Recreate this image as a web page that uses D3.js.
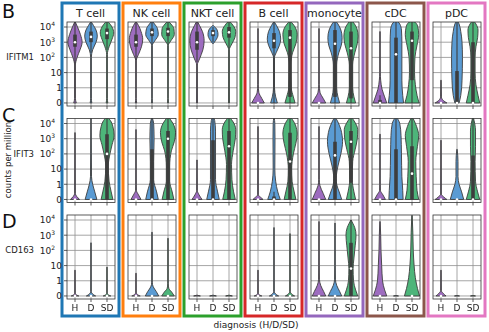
<!DOCTYPE html>
<html><head><meta charset="utf-8">
<script src="https://cdn.jsdelivr.net/npm/d3@7"></script>
<style>body{margin:0;background:#fff}svg{display:block;font-family:"DejaVu Sans",sans-serif}.xl{filter:grayscale(1)}</style>
</head><body><svg id="c" width="489" height="332"></svg>
<script>
const cellTypes = ["T cell","NK cell","NKT cell","B cell","monocyte","cDC","pDC"];
const diagnoses = ["H","D","SD"];
const genes = ["IFITM1","IFIT3","CD163"];
const panelLetters = ["B","C","D"];
const tickValues = [0,1,10,100,1000,10000];
const tickLabels = [["0"],["1"],["10"],["10","2"],["10","3"],["10","4"]];
const frameColors = ["#1f77b4","#ff7f0e","#2ca02c","#d62728","#9467bd","#8c564b","#e377c2"];
const diagColors = ["#9d6cbf","#5a9bd3","#4db57a"];

// violin profiles: [log-position, relative half width]; log-position: 0->0, 1->1, 10->2, 100->3 ...
const ifitm1Profiles = [
 [[0,0.15],[0.3,0.05],[2.5,0.05],[3.0,0.25],[3.5,0.6],[4.0,0.85],[4.5,0.65],[5.0,0.3],[5.35,0]],
 [[0,0.1],[0.3,0.04],[3.0,0.04],[3.5,0.2],[4.0,0.6],[4.4,0.75],[4.8,0.6],[5.1,0.3],[5.35,0]],
 [[0,0.1],[0.3,0.04],[3.2,0.04],[3.7,0.25],[4.2,0.6],[4.6,0.8],[5.0,0.6],[5.3,0.2],[5.4,0]],
 [[0,0.08],[0.3,0.03],[2.8,0.04],[3.2,0.3],[3.7,0.65],[4.2,0.8],[4.7,0.6],[5.1,0.3],[5.35,0]],
 [[0,0.05],[0.3,0.03],[3.8,0.04],[4.1,0.35],[4.5,0.75],[4.9,0.65],[5.2,0.3],[5.4,0]],
 [[0,0.05],[0.3,0.03],[3.8,0.04],[4.1,0.35],[4.5,0.75],[4.9,0.7],[5.2,0.35],[5.4,0]],
 [[0,0.05],[2.5,0.04],[2.9,0.3],[3.5,0.7],[4.1,0.85],[4.7,0.65],[5.1,0.3],[5.4,0]],
 [[3.9,0],[4.1,0.3],[4.5,0.6],[4.8,0.5],[5.1,0]],
 [[0,0.05],[3.5,0.04],[3.9,0.35],[4.3,0.7],[4.7,0.8],[5.1,0.5],[5.4,0]],
 [[0,0.75],[0.3,0.45],[0.7,0.1],[1.2,0.03],[4.9,0]],
 [[0,0.4],[0.4,0.2],[1,0.06],[3,0.06],[3.3,0.25],[3.8,0.65],[4.2,0.8],[4.7,0.65],[5.1,0.3],[5.35,0]],
 [[0,0.6],[0.4,0.4],[1,0.15],[2.5,0.1],[3.3,0.3],[3.9,0.7],[4.5,0.85],[5.0,0.6],[5.4,0]],
 [[0,0.8],[0.3,0.5],[0.7,0.12],[1.2,0.03],[4.9,0]],
 [[0,0.55],[0.4,0.35],[1,0.2],[2.5,0.2],[3.3,0.45],[3.8,0.75],[4.3,0.85],[4.8,0.7],[5.2,0.35],[5.45,0]],
 [[0,0.55],[0.4,0.35],[1,0.2],[2.5,0.2],[3.3,0.45],[3.9,0.75],[4.4,0.85],[4.9,0.7],[5.25,0.35],[5.45,0]],
 [[0,0.8],[0.4,0.55],[0.9,0.25],[1.5,0.08],[2.0,0.03],[4.7,0]],
 [[0,0.9],[0.5,0.8],[1.5,0.7],[3,0.7],[4,0.7],[4.8,0.65],[5.2,0.45],[5.45,0]],
 [[0,0.85],[0.5,0.6],[1.2,0.4],[2,0.3],[3,0.35],[3.8,0.6],[4.5,0.8],[5.0,0.7],[5.3,0.4],[5.45,0]],
 [[0,0.7],[0.15,0.3],[0.4,0.05],[1.5,0]],
 [[0,0.25],[0.5,0.45],[1.5,0.6],[3,0.65],[4,0.6],[4.7,0.45],[5.2,0.25],[5.45,0]],
 [[0,0.8],[0.5,0.6],[1.2,0.35],[2,0.25],[3,0.25],[3.7,0.35],[4.3,0.55],[4.8,0.6],[5.2,0.35],[5.45,0]]
];
const ifit3Profiles = [
 [[0,0.55],[0.2,0.2],[0.4,0.04],[4.4,0]],
 [[0,0.7],[0.5,0.45],[1.0,0.2],[1.5,0.06],[3,0.04],[5.4,0]],
 [[0,0.7],[0.5,0.5],[1.2,0.25],[2.2,0.15],[3,0.35],[3.6,0.6],[4.2,0.85],[4.8,0.7],[5.2,0.4],[5.45,0]],
 [[0,0.6],[0.3,0.3],[0.6,0.05],[1,0.03],[4.6,0]],
 [[0,0.75],[0.5,0.55],[1.3,0.2],[2.5,0.2],[4,0.25],[5,0.2],[5.4,0]],
 [[0,0.7],[0.5,0.5],[1.2,0.2],[2.2,0.2],[3.2,0.4],[3.8,0.75],[4.4,0.9],[5.0,0.6],[5.45,0]],
 [[0,0.6],[0.3,0.25],[0.6,0.04],[2.6,0]],
 [[0,0.75],[0.5,0.55],[1.3,0.3],[3,0.3],[4.5,0.3],[5.2,0.2],[5.45,0]],
 [[0,0.75],[0.5,0.55],[1.3,0.35],[2.3,0.3],[3.2,0.5],[4.0,0.75],[4.6,0.8],[5.1,0.5],[5.45,0]],
 [[0,0.6],[0.15,0.3],[0.3,0.04],[4.8,0]],
 [[0,0.75],[0.5,0.45],[1.2,0.2],[2,0.1],[4,0.12],[5.0,0.1],[5.4,0]],
 [[0,0.7],[0.5,0.5],[1.2,0.25],[2.0,0.2],[3,0.4],[3.7,0.7],[4.3,0.85],[4.9,0.65],[5.25,0.3],[5.45,0]],
 [[0,0.8],[0.4,0.5],[0.9,0.12],[1.3,0.03],[4.8,0]],
 [[0,0.8],[0.5,0.5],[1.0,0.2],[1.4,0.15],[2.2,0.35],[3.0,0.7],[3.8,0.9],[4.6,0.7],[5.1,0.35],[5.45,0]],
 [[0,0.55],[0.5,0.35],[1.3,0.15],[2.5,0.2],[3.3,0.5],[4.0,0.75],[4.6,0.8],[5.1,0.45],[5.45,0]],
 [[0,0.65],[0.3,0.35],[0.6,0.05],[1,0.03],[4.3,0]],
 [[0,0.85],[0.6,0.8],[1.5,0.7],[3,0.65],[4.2,0.6],[5.0,0.45],[5.45,0]],
 [[0,0.8],[0.6,0.6],[1.5,0.5],[2.5,0.45],[3.5,0.65],[4.2,0.8],[4.8,0.55],[5.2,0.25],[5.45,0]],
 [[0,0.7],[0.15,0.35],[0.35,0.04],[3.9,0]],
 [[0,0.8],[0.5,0.55],[1.0,0.25],[1.5,0.12],[2.5,0.12],[3.3,0]],
 [[0,0.8],[0.5,0.55],[1.2,0.3],[2.5,0.25],[3.5,0.3],[4.5,0.3],[5.45,0]]
];
const cd163Profiles = [
 [[0,0.45],[0.1,0.1],[0.2,0.03],[1.7,0]],
 [[0,0.55],[0.12,0.2],[0.3,0.03],[3.5,0]],
 [[0,0.45],[0.1,0.1],[0.2,0.03],[1.9,0]],
 [[0,0.5],[0.1,0.15],[0.25,0.03],[1.5,0]],
 [[0,0.8],[0.3,0.5],[0.6,0.15],[0.9,0.03],[4.2,0]],
 [[0,0.75],[0.25,0.45],[0.5,0.1],[0.8,0.03],[3.8,0]],
 [[0,0.4],[0.05,0]],
 [[0,0.4],[0.05,0]],
 [[0,0.4],[0.05,0]],
 [[0,0.45],[0.1,0.1],[0.2,0.03],[1.7,0]],
 [[0,0.55],[0.12,0.2],[0.3,0.03],[4.5,0]],
 [[0,0.55],[0.12,0.2],[0.3,0.03],[4.1,0]],
 [[0,0.8],[0.3,0.55],[0.7,0.2],[1.1,0.05],[2,0.03],[4.9,0]],
 [[0,0.8],[0.3,0.55],[0.7,0.2],[1.1,0.05],[2,0.03],[4.8,0]],
 [[0,0.8],[0.4,0.55],[1.0,0.3],[1.8,0.25],[2.5,0.35],[3.3,0.5],[4.0,0.6],[4.5,0.45],[4.8,0.2],[5.0,0]],
 [[0,0.8],[0.4,0.55],[1.0,0.3],[2,0.2],[3,0.12],[4,0.08],[4.9,0]],
 [[0,0.3],[0.03,0]],
 [[0,0.9],[0.5,0.65],[1.2,0.4],[2,0.25],[3,0.15],[4.2,0.1],[5.3,0]],
 [[0,0.6],[0.15,0.3],[0.35,0.04],[1.7,0]],
 [[0,0.3],[0.03,0]],
 [[0,0.3],[0.03,0]]
];
// box stats [whisker low, q1, median, q3, whisker high] in log-position units
const ifitm1Boxes = [
 [2.6,3.7,4.0,4.5,5.3],[3.3,4.0,4.35,4.7,5.3],[3.5,4.2,4.6,4.9,5.4],
 [2.8,3.7,4.0,4.5,5.3],[3.9,4.4,4.65,4.9,5.4],[3.9,4.4,4.7,4.95,5.4],
 [2.7,3.5,4.0,4.7,5.4],[4.0,4.4,4.6,4.8,5.0],[3.6,4.3,4.65,5.0,5.4],
 [0,0,0,0,0],[0,3.6,4.1,4.6,5.3],[0,0.4,4.3,4.8,5.4],
 [0,0,0,0,0],[0,0.4,3.9,4.8,5.4],[0,0.3,3.6,4.7,5.4],
 [0,0,0,0.2,0.5],[0,0,3.2,4.3,5.4],[0,1.5,4.1,4.7,5.4],
 [0,0,0,0,0],[0,0,0,2.1,5.4],[0,0,0,4.0,5.4]
];
const ifit3Boxes = [
 [0,0,0,0,0],[0,0,0,0,0],[0,0,3.0,4.3,5.4],
 [0,0,0,0,0],[0,0,0,3.3,5.4],[0,0,4.0,4.5,5.4],
 [0,0,0,0,0],[0,0,0,3.9,5.4],[0,0,3.5,4.5,5.4],
 [0,0,0,0,0],[0,0,0,0.2,0.5],[0,0,2.5,4.4,5.4],
 [0,0,0,0,0],[0,0,2.9,3.8,5.4],[0,1.1,3.8,4.5,5.4],
 [0,0,0,0,0],[0,0,0,3.3,5.4],[0,0,1.7,3.5,5.4],
 [0,0,0,0,0],[0,0,0,0,0],[0,0,0,2.9,5.4]
];
const cd163Boxes = [
 [0,0,0,0,0],[0,0,0,0,0],[0,0,0,0,0],
 [0,0,0,0,0],[0,0,0,0,0],[0,0,0,0,0],
 [0,0,0,0,0],[0,0,0,0,0],[0,0,0,0,0],
 [0,0,0,0,0],[0,0,0,0,0],[0,0,0,0,0],
 [0,0,0,0,0],[0,0,0,0,0],[0,0,1.8,3.5,5.0],
 [0,0,0,0,0],[0,0,0,0,0],[0,0,0,0,0],
 [0,0,0,0,0],[0,0,0,0,0],[0,0,0,0,0]
];
const profilesByGene = [ifitm1Profiles, ifit3Profiles, cd163Profiles];
const boxesByGene = [ifitm1Boxes, ifit3Boxes, cd163Boxes];

const svg = d3.select("#c");
const toPos = v => v <= 1 ? v : 1 + Math.log10(v);
const rowTops = [22, 118.5, 215];
const rowH = 84;
const axW = 48, firstLeft = 67, colStep = 61;

// frames + titles
cellTypes.forEach((c, i) => {
  const l = firstLeft + i * colStep;
  svg.append("rect").attr("x", l - 5).attr("y", 3).attr("width", axW + 9).attr("height", 313)
    .attr("fill", "none").attr("stroke", frameColors[i]).attr("stroke-width", 3);
  svg.append("text").attr("x", l + axW / 2 - 0.5).attr("y", 17).attr("text-anchor", "middle")
    .attr("font-size", 11).attr("fill", "#222").text(c);
});

genes.forEach((g, gi) => {
  const top = rowTops[gi];
  const y = d3.scaleLinear().domain([-0.2, 5.33]).range([top + rowH, top]);
  cellTypes.forEach((c, ci) => {
    const l = firstLeft + ci * colStep;
    const x = d3.scaleBand().domain(diagnoses).range([l, l + axW]);
    const hw = x.bandwidth() / 2;
    const clipId = `clip${gi}_${ci}`;
    svg.append("clipPath").attr("id", clipId).append("rect")
      .attr("x", l).attr("y", top).attr("width", axW).attr("height", rowH);
    const p = svg.append("g");
    // grid
    p.selectAll("line.h").data(tickValues).join("line").attr("class","h")
      .attr("x1", l).attr("x2", l + axW).attr("y1", d => y(toPos(d))).attr("y2", d => y(toPos(d)))
      .attr("stroke", "#8f8f8f").attr("stroke-width", 0.8);
    p.selectAll("line.v").data(diagnoses).join("line").attr("class","v")
      .attr("x1", d => x(d) + hw).attr("x2", d => x(d) + hw).attr("y1", top).attr("y2", top + rowH)
      .attr("stroke", "#8f8f8f").attr("stroke-width", 0.8);
    // bottom ticks
    p.selectAll("line.bt").data(diagnoses).join("line").attr("class","bt")
      .attr("x1", d => x(d) + hw).attr("x2", d => x(d) + hw).attr("y1", top + rowH).attr("y2", top + rowH + 3)
      .attr("stroke", "#333").attr("stroke-width", 0.8);
    const vg = p.append("g").attr("clip-path", `url(#${clipId})`);
    diagnoses.forEach((dg, di) => {
      const idx = ci * 3 + di;
      const prof = profilesByGene[gi][idx];
      const cx = x(dg) + hw;
      const area = d3.area().curve(d3.curveMonotoneY)
        .y(d => y(d[0]))
        .x0(d => cx - Math.max(d[1], 0.02) * hw * 1.05)
        .x1(d => cx + Math.max(d[1], 0.02) * hw * 1.05);
      vg.append("path").attr("d", area(prof)).attr("fill", diagColors[di])
        .attr("stroke", "#3d3d3d").attr("stroke-width", 0.9);
      const b = boxesByGene[gi][idx];
      if (prof.length > 2) {
        if (b[4] > b[0]) vg.append("line").attr("x1", cx).attr("x2", cx).attr("y1", y(b[0])).attr("y2", y(b[4]))
          .attr("stroke", "#3d3d3d").attr("stroke-width", 1.1);
        if (b[3] > b[1]) vg.append("line").attr("x1", cx).attr("x2", cx).attr("y1", y(b[1])).attr("y2", y(b[3]))
          .attr("stroke", "#3d3d3d").attr("stroke-width", 3.6);
        vg.append("circle").attr("cx", cx).attr("cy", y(b[2])).attr("r", 1.3).attr("fill", "#fff");
      }
    });
    // spines
    p.append("rect").attr("x", l).attr("y", top).attr("width", axW).attr("height", rowH)
      .attr("fill", "none").attr("stroke", "#333").attr("stroke-width", 0.8);
    if (gi === 2) {
      p.selectAll("text.xl").data(diagnoses).join("text").attr("class","xl")
        .attr("x", d => Math.round(x(d) + hw)).attr("y", top + rowH + 12).attr("text-anchor", "middle")
        .attr("font-size", 9).attr("fill", "#222").text(d => d);
    }
    if (ci === 0) {
      p.selectAll("line.yt").data(tickValues).join("line").attr("class","yt")
        .attr("x1", l - 3).attr("x2", l).attr("y1", d => y(toPos(d))).attr("y2", d => y(toPos(d)))
        .attr("stroke", "#333").attr("stroke-width", 0.8);
      tickValues.forEach((tv, ti) => {
        const lab = tickLabels[ti];
        const t = p.append("text").attr("x", lab.length > 1 ? 55 : 62).attr("y", y(toPos(tv)) + 3.3)
          .attr("text-anchor", "end").attr("font-size", 9).attr("fill", "#222");
        t.append("tspan").text(lab[0]);
        if (lab.length > 1) t.append("tspan").attr("font-size", 6).attr("dy", -4).text(lab[1]);
      });
      svg.append("text").attr("x", 34).attr("y", y(toPos(100)) + 3).attr("text-anchor", "end")
        .attr("font-size", 8.5).attr("fill", "#222").text(g);
    }
  });
  svg.append("text").attr("x", 2).attr("y", [18, 122, 228][gi]).attr("font-size", 19)
    .attr("fill", "#111").text(panelLetters[gi]);
});

svg.append("text").attr("transform", "translate(11,160) rotate(-90)").attr("text-anchor", "middle")
  .attr("font-size", 8.5).attr("fill", "#222").text("counts per million");
svg.append("text").attr("x", 256).attr("y", 328).attr("text-anchor", "middle")
  .attr("font-size", 9).attr("fill", "#222").text("diagnosis (H/D/SD)");
</script></body></html>
